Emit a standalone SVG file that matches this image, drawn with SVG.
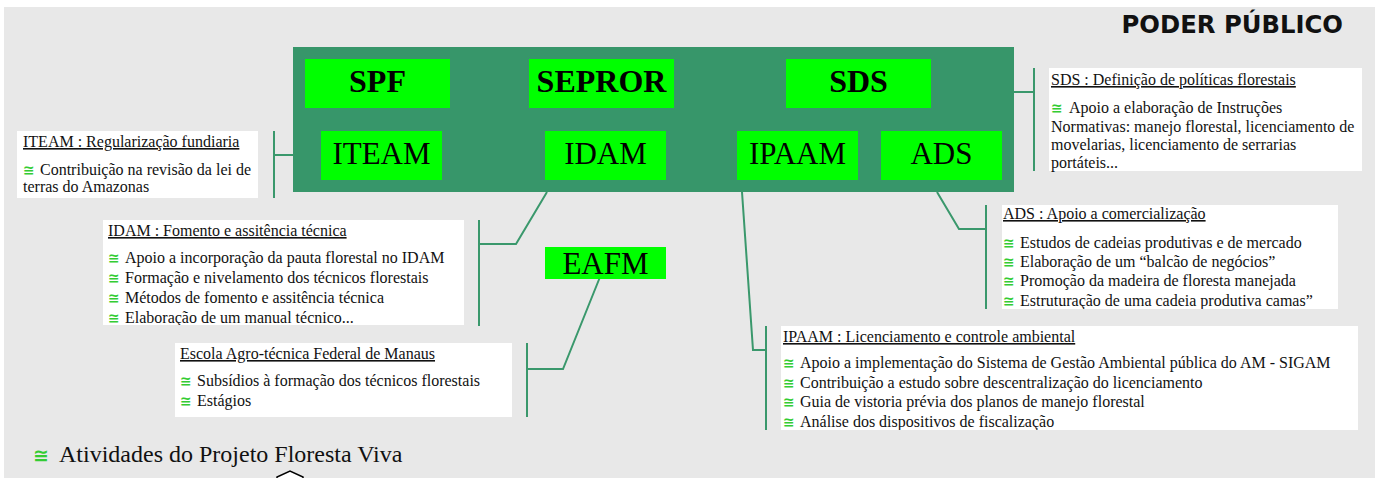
<svg xmlns="http://www.w3.org/2000/svg" width="1380" height="478" viewBox="0 0 1380 478">
<style>
.bg{fill:#e8e8e8}
.panel{fill:#37966a}
.gbox{fill:#00ff00}
.bold{font-family:"Liberation Serif","Times New Roman",serif;font-size:32px;font-weight:bold;fill:#000;text-anchor:middle}
.reg{font-family:"Liberation Serif","Times New Roman",serif;font-size:31px;fill:#000;text-anchor:middle}
.tbox{fill:#ffffff}
.t{font-family:"Liberation Serif","Times New Roman",serif;font-size:16px;fill:#111}
.title{text-decoration:underline}
.b{font-family:"DejaVu Sans",sans-serif;font-size:14px;font-weight:bold;fill:#33cc33}
.conn{fill:none;stroke:#3a986c;stroke-width:2}
</style>
<defs>
<clipPath id="clipIdam"><rect x="103" y="220" width="361" height="105"/></clipPath>
<clipPath id="clipAds"><rect x="1002" y="205" width="336" height="104"/></clipPath>
<clipPath id="clipIpaam"><rect x="781" y="326" width="577" height="104"/></clipPath>
</defs>
<rect x="0" y="0" width="1380" height="478" fill="#ffffff"/>
<rect class="bg" x="4" y="7" width="1371" height="471"/>
<text x="1343" y="33" font-family="'DejaVu Sans',Verdana,sans-serif" font-size="24.3" font-weight="bold" text-anchor="end" fill="#111">PODER PÚBLICO</text>

<g id="connectors">
<polyline class="conn" points="293,155 274,155"/>
<line class="conn" x1="274" y1="131" x2="274" y2="198"/>
<polyline class="conn" points="1014,92 1034,92"/>
<line class="conn" x1="1034" y1="68" x2="1034" y2="171"/>
<polyline class="conn" points="937,192 959,229 986,229"/>
<line class="conn" x1="986" y1="205" x2="986" y2="309"/>
<polyline class="conn" points="547,192 516,244 479,244"/>
<line class="conn" x1="479" y1="220" x2="479" y2="326"/>
<polyline class="conn" points="600,277 563,369 527,369"/>
<line class="conn" x1="527" y1="343" x2="527" y2="417"/>
<polyline class="conn" points="742,192 753,350 766,350"/>
<line class="conn" x1="766" y1="326" x2="766" y2="430"/>
</g>

<g id="poder-publico">
<rect class="panel" x="293" y="47" width="721" height="145"/>
</g>
<g id="SPF"><rect class="gbox" x="305" y="59" width="145" height="49"/><text class="bold" x="377.5" y="92">SPF</text></g>
<g id="SEPROR"><rect class="gbox" x="529" y="59" width="145" height="49"/><text class="bold" x="601.5" y="92">SEPROR</text></g>
<g id="SDS"><rect class="gbox" x="786" y="59" width="145" height="49"/><text class="bold" x="858.5" y="92">SDS</text></g>
<g id="ITEAM"><rect class="gbox" x="321" y="131" width="121" height="49"/><text class="reg" x="381.5" y="164">ITEAM</text></g>
<g id="IDAM"><rect class="gbox" x="545" y="131" width="121" height="49"/><text class="reg" x="605.5" y="164">IDAM</text></g>
<g id="IPAAM"><rect class="gbox" x="737" y="131" width="121" height="49"/><text class="reg" x="797.5" y="164">IPAAM</text></g>
<g id="ADS"><rect class="gbox" x="881" y="131" width="121" height="49"/><text class="reg" x="941.5" y="164">ADS</text></g>
<g id="EAFM"><rect class="gbox" x="545" y="247" width="121" height="32"/><text class="reg" x="605.5" y="274" font-size="26">EAFM</text></g>

<g id="note-iteam">
<rect class="tbox" x="17" y="131" width="241" height="67"/>
<text class="t title" x="23" y="147">ITEAM : Regularização fundiaria</text>
<text class="b" x="23" y="175">≅</text>
<text class="t" x="40" y="175">Contribuição na revisão da lei de</text>
<text class="t" x="23" y="192">terras do Amazonas</text>
</g>

<g id="note-sds">
<rect class="tbox" x="1049" y="68" width="313" height="103"/>
<text class="t title" x="1051" y="85">SDS : Definição de políticas florestais</text>
<text class="b" x="1051" y="113">≅</text>
<text class="t" x="1069" y="113">Apoio a elaboração de Instruções</text>
<text class="t" x="1051" y="131.5">Normativas: manejo florestal, licenciamento de</text>
<text class="t" x="1051" y="150">movelarias, licenciamento de serrarias</text>
<text class="t" x="1051" y="168">portáteis...</text>
</g>

<g id="note-ads">
<rect class="tbox" x="1002" y="205" width="336" height="104"/>
<g clip-path="url(#clipAds)">
<text class="t title" x="1003" y="219">ADS : Apoio a comercialização</text>
<text class="b" x="1003" y="248">≅</text><text class="t" x="1020" y="248">Estudos de cadeias produtivas e de mercado</text>
<text class="b" x="1003" y="267">≅</text><text class="t" x="1020" y="267">Elaboração de um “balcão de negócios”</text>
<text class="b" x="1003" y="286">≅</text><text class="t" x="1020" y="286">Promoção da madeira de floresta manejada</text>
<text class="b" x="1003" y="306">≅</text><text class="t" x="1020" y="306">Estruturação de uma cadeia produtiva camas”</text>
</g>
</g>

<g id="note-idam">
<rect class="tbox" x="103" y="220" width="361" height="105"/>
<g clip-path="url(#clipIdam)">
<text class="t title" x="108" y="236">IDAM : Fomento e assitência técnica</text>
<text class="b" x="108" y="263">≅</text><text class="t" x="125" y="263">Apoio a incorporação da pauta florestal no IDAM</text>
<text class="b" x="108" y="283">≅</text><text class="t" x="125" y="283">Formação e nivelamento dos técnicos florestais</text>
<text class="b" x="108" y="303">≅</text><text class="t" x="125" y="303">Métodos de fomento e assitência técnica</text>
<text class="b" x="108" y="322.5">≅</text><text class="t" x="125" y="322.5">Elaboração de um manual técnico...</text>
</g>
</g>

<g id="note-eafm">
<rect class="tbox" x="175" y="343" width="337" height="74"/>
<text class="t title" x="180" y="359">Escola Agro-técnica Federal de Manaus</text>
<text class="b" x="180" y="386">≅</text><text class="t" x="197" y="386">Subsídios à formação dos técnicos florestais</text>
<text class="b" x="180" y="406">≅</text><text class="t" x="197" y="406">Estágios</text>
</g>

<g id="note-ipaam">
<rect class="tbox" x="781" y="326" width="577" height="104"/>
<g clip-path="url(#clipIpaam)">
<text class="t title" x="783" y="342">IPAAM : Licenciamento e controle ambiental</text>
<text class="b" x="783" y="368">≅</text><text class="t" x="800" y="368">Apoio a implementação do Sistema de Gestão Ambiental pública do AM - SIGAM</text>
<text class="b" x="783" y="388">≅</text><text class="t" x="800" y="388">Contribuição a estudo sobre descentralização do licenciamento</text>
<text class="b" x="783" y="407">≅</text><text class="t" x="800" y="407">Guia de vistoria prévia dos planos de manejo florestal</text>
<text class="b" x="783" y="427">≅</text><text class="t" x="800" y="427">Análise dos dispositivos de fiscalização</text>
</g>
</g>

<g id="legend">
<text x="33" y="462" font-family="'DejaVu Sans',sans-serif" font-size="19" font-weight="bold" fill="#33cc33">≅</text>
<text x="59" y="462" font-family="'Liberation Serif','Times New Roman',serif" font-size="24" fill="#111">Atividades do Projeto Floresta Viva</text>
<polygon points="277,479 277,477 290,471 303,477 303,479" fill="#ffffff" stroke="#000" stroke-width="1.5"/>
</g>
</svg>
